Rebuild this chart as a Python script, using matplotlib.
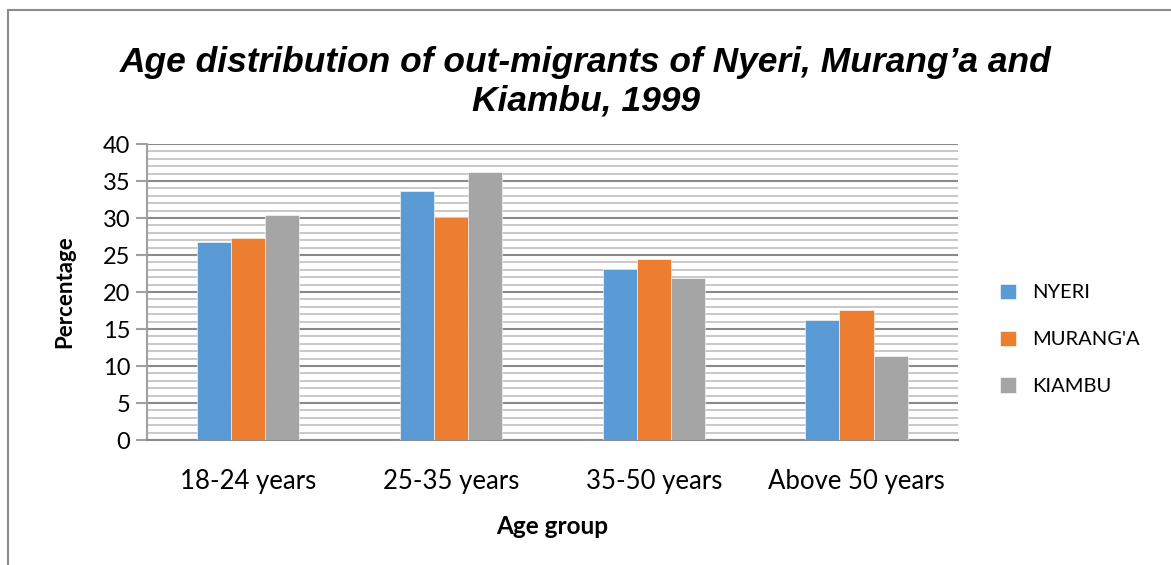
import numpy as np
import matplotlib
matplotlib.use("Agg")
import matplotlib.pyplot as plt
from matplotlib.patches import Rectangle

# data
groups = ["18-24 years", "25-35 years", "35-50 years", "Above 50 years"]
nyeri = [26.8, 33.6, 23.1, 16.2]
muranga = [27.3, 30.2, 24.5, 17.6]
kiambu = [30.4, 36.2, 21.9, 11.4]
series_names = ["NYERI", "MURANG'A", "KIAMBU"]
colors = ["#5B9BD5", "#ED7D31", "#A5A5A5"]

plt.rcParams['font.family'] = ['Lato', 'DejaVu Sans']

fig = plt.figure(figsize=(11.71, 5.65), dpi=100)
ax = fig.add_axes([0.1255, 0.2212, 0.6925, 0.5239])

# outer chart border (only top and left visible in the picture)
fig.patches.append(Rectangle((8 / 1171, -0.1), 1.2, 1 - 10 / 565 + 0.1,
                             transform=fig.transFigure, fill=False,
                             edgecolor="#8C8C8C", linewidth=1.5))

x = np.arange(len(groups))
w = 0.168
for i, (vals, name, c) in enumerate(zip([nyeri, muranga, kiambu], series_names, colors)):
    ax.bar(x + (i - 1) * w, vals, w, color=c, label=name,
           edgecolor="white", linewidth=0.4, zorder=3)

ax.set_xlim(-0.5, len(groups) - 0.5)
ax.set_ylim(0, 40)
ax.set_yticks(np.arange(0, 41, 5))
ax.set_yticks(np.arange(0, 41, 1), minor=True)
ax.grid(axis="y", which="major", color="#8A8A8A", linewidth=1.5, zorder=1)
ax.grid(axis="y", which="minor", color="#C4C4C4", linewidth=1.3, zorder=0)

for s in ["top", "right"]:
    ax.spines[s].set_visible(False)
ax.spines["left"].set_color("#A0A0A0")
ax.spines["left"].set_linewidth(1.5)
ax.spines["bottom"].set_color("#8A8A8A")
ax.spines["bottom"].set_linewidth(1.5)

ax.set_xticks(x)
ax.set_xticklabels(groups, fontsize=18.5)
ax.tick_params(axis="x", length=0, pad=21)
ax.tick_params(axis="y", which="major", length=8, width=1.5, color="#A0A0A0",
               labelsize=17, pad=4)
ax.tick_params(axis="y", which="minor", length=0)

ax.set_ylabel("Percentage", fontsize=16, fontweight="bold", labelpad=20)
ax.set_xlabel("Age group", fontsize=17.5, fontweight="bold", labelpad=15)

fig.text(0.5, 0.855, "Age distribution of out-migrants of Nyeri, Murang\u2019a and\nKiambu, 1999",
         ha="center", va="center", fontsize=25.5, fontweight="bold", style="italic",
         family=["Liberation Sans", "DejaVu Sans"], linespacing=1.2)

ax.legend(loc="center left", bbox_to_anchor=(1.03, 0.34), frameon=False,
          fontsize=14.5, handlelength=0.8, handleheight=0.8, labelspacing=1.45,
          handletextpad=0.8)

fig.savefig("out.png", dpi=100)
